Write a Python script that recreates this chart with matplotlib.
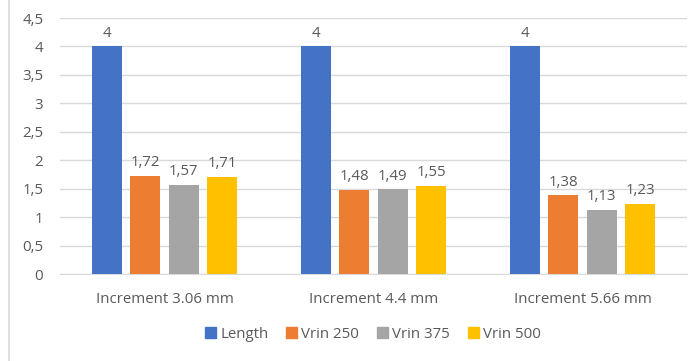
import numpy as np
import matplotlib.pyplot as plt
from matplotlib.lines import Line2D

categories = ["Increment 3.06 mm", "Increment 4.4 mm", "Increment 5.66 mm"]
series = ["Length", "Vrin 250", "Vrin 375", "Vrin 500"]
length = [4, 4, 4]
vrin_250 = [1.72, 1.48, 1.38]
vrin_375 = [1.57, 1.49, 1.13]
vrin_500 = [1.71, 1.55, 1.23]
colors = ["#4472C4", "#ED7D31", "#A5A5A5", "#FFC000"]

plt.rcParams['font.family'] = ['Open Sans', 'DejaVu Sans']
txt = "#595959"
fs = 10.8

fig = plt.figure(figsize=(6.97, 3.61), dpi=100)
ax = fig.add_axes([60/697, 1 - 274/361, 627/697, (274 - 18)/361])

x = np.arange(len(categories))
w = 30/209
pitch = 38.5/209
values = [length, vrin_250, vrin_375, vrin_500]
for i, (name, vals) in enumerate(zip(series, values)):
    pos = x + (i - 1.5)*pitch
    ax.bar(pos, vals, width=w, color=colors[i], label=name, zorder=3)
    for p, v in zip(pos, vals):
        lab = ("%g" % v).replace(".", ",")
        ax.text(p, v + 0.1, lab, ha="center", va="bottom", fontsize=fs, color=txt)

ax.set_xlim(-0.5, 2.5)
ax.set_ylim(0, 4.5)
yt = np.arange(0, 4.51, 0.5)
ax.set_yticks(yt)
ax.set_yticklabels([("%g" % t).replace(".", ",") for t in yt], fontsize=fs, color=txt)
ax.set_xticks(x)
ax.set_xticklabels(categories, fontsize=fs, color=txt)
ax.tick_params(axis="both", length=0)
ax.tick_params(axis="x", pad=13)
ax.tick_params(axis="y", pad=12)
ax.grid(axis="y", color="#D9D9D9", linewidth=1, zorder=0)
for s in ["top", "right", "left"]:
    ax.spines[s].set_visible(False)
ax.spines["bottom"].set_color("#D9D9D9")

handles = [plt.Rectangle((0, 0), 1, 1, color=c) for c in colors]
fig.legend(handles, series, loc="center", bbox_to_anchor=(373/697, 1 - 334/361),
           ncol=4, frameon=False, fontsize=fs, handlelength=0.7, handleheight=0.7,
           handletextpad=0.3, columnspacing=1.2, labelcolor=txt)

fig.add_artist(Line2D([9/697, 9/697], [0, 1], color="#D9D9D9", linewidth=1.2))

fig.savefig("out.png", dpi=100)
